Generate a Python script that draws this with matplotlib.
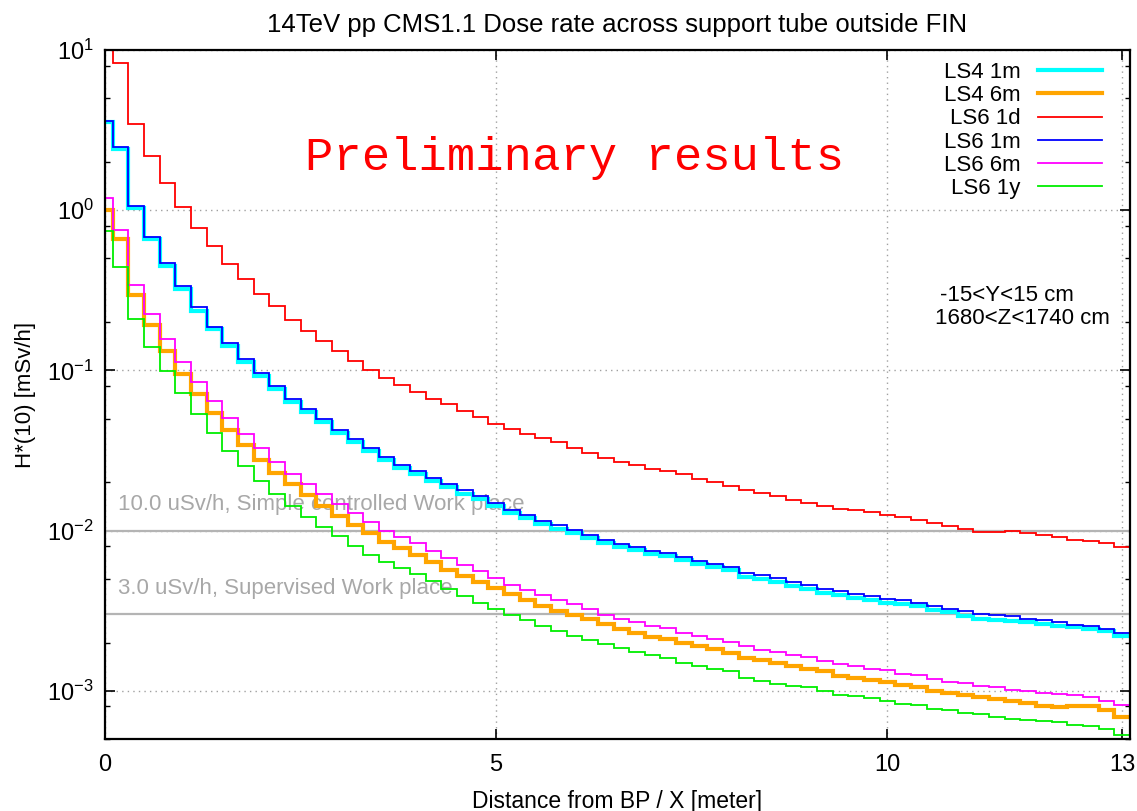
import matplotlib
matplotlib.use('agg')
import matplotlib.pyplot as plt
from matplotlib.ticker import LogLocator, NullFormatter, FixedLocator
import numpy as np

plt.rcParams['font.family'] = ['Liberation Sans', 'DejaVu Sans']

# bins of 0.2 m centred on 0.0, 0.2, ... 13.0
bin_width = 0.2
n_bins = 66

# H*(10) [mSv/h] per bin
ls4_1m = [3.53, 2.41, 1.03, 0.659, 0.449, 0.324, 0.235, 0.182, 0.143, 0.1135,
          0.0917, 0.0764, 0.0631, 0.0546, 0.0473, 0.0406, 0.0355, 0.0312, 0.0275, 0.0246,
          0.0225, 0.0204, 0.0188, 0.0170, 0.0157, 0.0143, 0.0129, 0.0120, 0.0110, 0.0103,
          0.00970, 0.00900, 0.00841, 0.00794, 0.00753, 0.00718, 0.00695, 0.00656, 0.00621, 0.00595,
          0.00567, 0.00514, 0.00497, 0.00478, 0.00449, 0.00430, 0.00410, 0.00395, 0.00380, 0.00367,
          0.00354, 0.00348, 0.00336, 0.00321, 0.00309, 0.00294, 0.00281, 0.00278, 0.00274, 0.00267,
          0.00261, 0.00255, 0.00250, 0.00243, 0.00235, 0.00221]
ls4_6m = [1.01, 0.659, 0.294, 0.192, 0.133, 0.0953, 0.0708, 0.0539, 0.0424, 0.0340,
          0.0275, 0.0230, 0.0194, 0.0166, 0.0142, 0.0123, 0.0109, 0.00968, 0.00850, 0.00780,
          0.00708, 0.00637, 0.00571, 0.00518, 0.00475, 0.00438, 0.00402, 0.00367, 0.00340, 0.00313,
          0.00299, 0.00281, 0.00262, 0.00243, 0.00230, 0.00217, 0.00211, 0.00199, 0.00191, 0.00182,
          0.00173, 0.00160, 0.00155, 0.00149, 0.00143, 0.00137, 0.00132, 0.00123, 0.00120, 0.00117,
          0.00113, 0.00109, 0.00105, 0.00100, 0.000968, 0.000944, 0.000914, 0.000887, 0.000857, 0.000838,
          0.000809, 0.000791, 0.000798, 0.000806, 0.000753, 0.000690]
ls6_1d = [12.0, 8.26, 3.45, 2.19, 1.47, 1.04, 0.780, 0.594, 0.463, 0.373,
          0.302, 0.251, 0.207, 0.177, 0.152, 0.133, 0.114, 0.1005, 0.0891, 0.0809,
          0.0736, 0.0665, 0.0613, 0.0557, 0.0511, 0.0466, 0.0428, 0.0400, 0.0377, 0.0358,
          0.0329, 0.0306, 0.0285, 0.0267, 0.0255, 0.0243, 0.0235, 0.0224, 0.0210, 0.0200,
          0.0189, 0.0178, 0.0172, 0.0164, 0.0155, 0.0149, 0.0143, 0.0137, 0.0134, 0.0130,
          0.0126, 0.0121, 0.0117, 0.0111, 0.0107, 0.0103, 0.00976, 0.00981, 0.00991, 0.00968,
          0.00944, 0.00914, 0.00869, 0.00857, 0.00838, 0.00791]
ls6_1m = [3.61, 2.49, 1.07, 0.685, 0.470, 0.336, 0.249, 0.187, 0.149, 0.1186,
          0.0958, 0.0798, 0.0659, 0.0571, 0.0494, 0.0424, 0.0371, 0.0326, 0.0287, 0.0257,
          0.0235, 0.0213, 0.0196, 0.0178, 0.0164, 0.0149, 0.0135, 0.0125, 0.01155, 0.0108,
          0.01014, 0.00940, 0.00879, 0.00830, 0.00787, 0.00750, 0.00726, 0.00685, 0.00649, 0.00622,
          0.00593, 0.00544, 0.00526, 0.00506, 0.00475, 0.00455, 0.00434, 0.00418, 0.00402, 0.00388,
          0.00374, 0.00369, 0.00353, 0.00336, 0.00325, 0.00313, 0.00302, 0.00296, 0.00291, 0.00282,
          0.00275, 0.00269, 0.00259, 0.00252, 0.00244, 0.00231]
ls6_6m = [1.19, 0.753, 0.341, 0.226, 0.158, 0.1133, 0.0845, 0.0643, 0.0501, 0.0398,
          0.0326, 0.0269, 0.0226, 0.0194, 0.0168, 0.0147, 0.0129, 0.01134, 0.0100, 0.00914,
          0.00838, 0.00750, 0.00675, 0.00607, 0.00557, 0.00506, 0.00460, 0.00428, 0.00398, 0.00371,
          0.00350, 0.00324, 0.00299, 0.00281, 0.00267, 0.00252, 0.00247, 0.00231, 0.00221, 0.00211,
          0.00201, 0.00189, 0.00180, 0.00175, 0.00168, 0.00162, 0.00154, 0.00147, 0.00142, 0.00137,
          0.00134, 0.00128, 0.00126, 0.00118, 0.00114, 0.00112, 0.00107, 0.00105, 0.00101, 0.000990,
          0.000968, 0.000953, 0.000944, 0.000914, 0.000869, 0.000818]
ls6_1y = [0.743, 0.442, 0.208, 0.139, 0.0990, 0.0718, 0.0531, 0.0404, 0.0316, 0.0252,
          0.0203, 0.0170, 0.0142, 0.0121, 0.0105, 0.00921, 0.00806, 0.00708, 0.00640, 0.00585,
          0.00536, 0.00482, 0.00432, 0.00388, 0.00353, 0.00324, 0.00299, 0.00275, 0.00255, 0.00237,
          0.00221, 0.00208, 0.00197, 0.00186, 0.00175, 0.00168, 0.00160, 0.00149, 0.00143, 0.00137,
          0.00132, 0.00120, 0.00115, 0.00111, 0.00107, 0.00105, 0.00100, 0.000935, 0.000921, 0.000900,
          0.000857, 0.000827, 0.000818, 0.000772, 0.000753, 0.000731, 0.000718, 0.000690, 0.000665, 0.000659,
          0.000643, 0.000634, 0.000613, 0.000604, 0.000579, 0.000531]

series = [("LS4 1m", ls4_1m, "#00ffff", 3.0),
          ("LS4 6m", ls4_6m, "#ffa500", 3.0),
          ("LS6 1d", ls6_1d, "#ff0000", 1.3),
          ("LS6 1m", ls6_1m, "#0000ff", 1.3),
          ("LS6 6m", ls6_6m, "#ff00ff", 1.3),
          ("LS6 1y", ls6_1y, "#00ee00", 1.3)]

# work place limits [mSv/h]
limits = [(0.010, "10.0 uSv/h, Simple controlled Work place"),
          (0.003, "3.0 uSv/h, Supervised Work place")]

edges = (np.arange(n_bins + 1) - 0.5) * bin_width

fig = plt.figure(figsize=(11.37, 8.11), dpi=100)
ax = fig.add_axes([0.0923, 0.0888, 0.9015, 0.8495])

for val, txt in limits:
    ax.axhline(val, color="#b4b4b4", lw=1.6, zorder=1)
    ax.text(0.17, val * 1.46, txt, color="#a8a8a8", fontsize=16, va="center", ha="left", zorder=1)

for name, vals, col, lw in series:
    ax.stairs(vals, edges, baseline=None, color=col, lw=lw, label=name, zorder=2)

ax.set_yscale('log')
ax.set_xlim(0, 13.1)
ax.set_ylim(5e-4, 10)

ax.xaxis.set_major_locator(FixedLocator([0, 5, 10, 13]))
ax.yaxis.set_major_locator(LogLocator(base=10, numticks=10))
ax.yaxis.set_minor_locator(LogLocator(base=10, subs=[2, 5, 8], numticks=10))
ax.yaxis.set_minor_formatter(NullFormatter())
ax.tick_params(which='both', direction='in', top=True, right=True, labelsize=17)
ax.tick_params(which='major', length=7, width=1.2)
ax.tick_params(which='minor', length=3.5, width=1.0)
ax.tick_params(axis='x', pad=11)
ax.tick_params(axis='y', pad=8)

ax.grid(True, which='major', color="#a0a0a0", ls=(0, (1, 3)), lw=1.0)
ax.set_axisbelow(True)
for sp in ax.spines.values():
    sp.set_linewidth(1.6)

ax.set_title("14TeV pp CMS1.1 Dose rate across support tube outside FIN", fontsize=18.5, pad=13)
ax.set_xlabel("Distance from BP / X [meter]", fontsize=16.5, labelpad=10)
ax.set_ylabel("H*(10) [mSv/h]", fontsize=16, labelpad=8)

ax.text(0.4585, 0.843, "Preliminary results", transform=ax.transAxes, color="red",
        fontsize=34, family="Liberation Mono", ha="center", va="center")
ax.text(0.815, 0.643, "-15<Y<15 cm", transform=ax.transAxes, fontsize=16, ha="left", va="center")
ax.text(0.810, 0.610, "1680<Z<1740 cm", transform=ax.transAxes, fontsize=16, ha="left", va="center")

leg = ax.legend(loc="upper right", bbox_to_anchor=(0.9727, 0.9826), frameon=False,
                markerfirst=False, fontsize=16, handlelength=2.9, handletextpad=0.75,
                labelspacing=0.1, borderaxespad=0, borderpad=0)
for t in leg.get_texts():
    t.set_ha("right")

fig.savefig("out.png", dpi=100)
